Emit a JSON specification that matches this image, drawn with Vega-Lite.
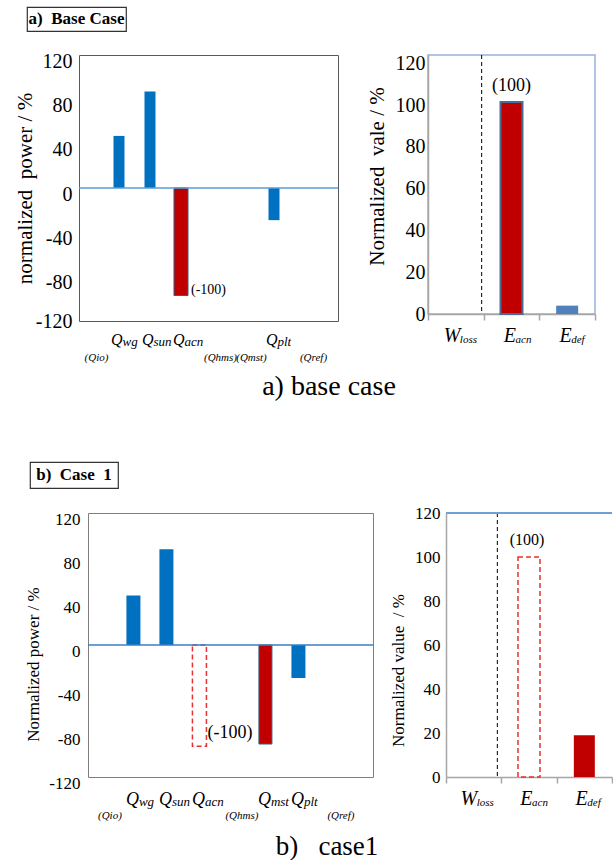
{
  "$schema": "https://vega.github.io/schema/vega-lite/v6.json",
  "padding": {"left": 0, "top": 6, "right": 0, "bottom": 0},
  "spacing": 0,
  "config": {
    "view": {"stroke": null},
    "font": "Liberation Serif",
    "axis": {"labelColor": "#000000", "titleColor": "#000000", "labelFont": "Liberation Serif", "titleFont": "Liberation Serif", "titleFontWeight": "normal", "grid": false},
    "text": {"color": "#000000", "font": "Liberation Serif"}
  },
  "vconcat": [
    {"hconcat": [
      {"width": 27, "height": 43, "data": {"values": []}, "mark": "point"},
      {"width": 99, "height": 24, "view": {"stroke": "#333333", "strokeWidth": 1.2},
       "data": {"values": [{"t": "a)\u00a0\u00a0Base Case"}]},
       "mark": {"type": "text", "fontSize": 17, "fontWeight": "bold", "font": "Liberation Serif"},
       "encoding": {"text": {"field": "t"}}}
    ], "spacing": 0, "bounds": "flush"},

    {"hconcat": [
      {"width": 79, "height": 312, "data": {"values": []}, "mark": "point"},
      {
        "width": 259, "height": 266,
        "view": {"stroke": "#595959", "strokeWidth": 1},
        "data": {"values": [
          {"cat": "Qwg", "v": 47, "kind": "blue"},
          {"cat": "Qsun", "v": 87, "kind": "blue"},
          {"cat": "Qacn", "v": -97, "kind": "red", "label": "(-100)"},
          {"cat": "Qplt", "v": -29, "kind": "blue"}
        ]},
        "layer": [
          {"transform": [{"filter": "datum.kind == 'blue'"}],
           "mark": {"type": "bar", "width": 11, "color": "#0070C0"},
           "encoding": {
             "x": {"field": "cat", "type": "nominal", "scale": {"type": "point", "domain": ["Qio","Qwg","Qsun","Qacn","Qhms","Qmst","Qplt","Qref"], "padding": 0.677, "align": 0.214},
                   "axis": {"orient": "bottom", "title": null, "domain": false, "ticks": false, "tickSize": 0, "labelAngle": 0, "labelAlign": "right", "labelBaseline": "alphabetic", "labelPadding": 23, "labelOffset": 3, "labelFont": "Liberation Serif", "labelFontSize": 16, "labelFontStyle": "italic", "labelOverlap": false,
                            "labelExpr": "indexof(['Qwg','Qsun','Qacn','Qplt'], datum.value) >= 0 ? 'Q' : ''"}},
             "y": {"field": "v", "type": "quantitative", "scale": {"domain": [-120, 120], "nice": false},
                   "axis": {"orient": "left", "values": [-120,-80,-40,0,40,80,120], "labelExpr": "'' + datum.value", "title": "normalized\u00a0\u00a0power / %", "titleFont": "Liberation Serif", "titleFontSize": 21, "titleX": -54, "titleY": 133, "titleAngle": -90, "titleBaseline": "middle", "titleAlign": "center",
                            "labelFont": "Liberation Serif", "labelFontSize": 20, "labelPadding": 7, "labelOffset": {"condition": {"test": "datum.value == -120", "value": 0}, "value": 6},
                            "ticks": false, "tickSize": 0, "domain": false, "labelFlush": false, "labelOverlap": false}}
           }},
          {"transform": [{"filter": "datum.kind == 'red'"}],
           "mark": {"type": "bar", "width": 14, "color": "#C00000", "stroke": "#3A5A80", "strokeWidth": 1},
           "encoding": {
             "x": {"field": "cat", "type": "nominal", "scale": {"type": "point", "domain": ["Qio","Qwg","Qsun","Qacn","Qhms","Qmst","Qplt","Qref"], "padding": 0.677, "align": 0.214}, "axis": null},
             "y": {"field": "v", "type": "quantitative", "scale": {"domain": [-120, 120], "nice": false}, "axis": null}
           }},
          {"data": {"values": [{}]},
           "mark": {"type": "rule", "color": "#5B9BD5", "strokeWidth": 1.5},
           "encoding": {"y": {"datum": 0, "type": "quantitative", "scale": {"domain": [-120, 120], "nice": false}, "axis": null}}},
          {"transform": [{"filter": "isValid(datum.label)"}],
           "mark": {"type": "text", "align": "left", "baseline": "middle", "dx": 10, "dy": -6, "fontSize": 14, "font": "Liberation Serif"},
           "encoding": {
             "x": {"field": "cat", "type": "nominal", "scale": {"type": "point", "domain": ["Qio","Qwg","Qsun","Qacn","Qhms","Qmst","Qplt","Qref"], "padding": 0.677, "align": 0.214}, "axis": null},
             "y": {"field": "v", "type": "quantitative", "scale": {"domain": [-120, 120], "nice": false}, "axis": null},
             "text": {"field": "label"}
           }},
          {"mark": {"type": "point", "opacity": 0},
           "encoding": {
             "x": {"field": "cat", "type": "nominal", "scale": {"type": "point", "domain": ["Qio","Qwg","Qsun","Qacn","Qhms","Qmst","Qplt","Qref"], "padding": 0.677, "align": 0.214},
                   "axis": {"orient": "bottom", "title": null, "domain": false, "ticks": false, "tickSize": 0, "labelAngle": 0, "labelAlign": "left", "labelBaseline": "alphabetic", "labelPadding": 24, "labelOffset": 3, "labelFont": "Liberation Serif", "labelFontSize": 13, "labelFontStyle": "italic", "labelOverlap": false,
                            "labelExpr": "indexof(['Qwg','Qsun','Qacn','Qplt'], datum.value) >= 0 ? substring(datum.value, 1) : ''"}},
             "y": {"field": "v", "type": "quantitative", "scale": {"domain": [-120, 120], "nice": false}, "axis": null}
           }},
          {"mark": {"type": "point", "opacity": 0},
           "encoding": {
             "x": {"field": "cat", "type": "nominal", "scale": {"type": "point", "domain": ["Qio","Qwg","Qsun","Qacn","Qhms","Qmst","Qplt","Qref"], "padding": 0.677, "align": 0.214},
                   "axis": {"orient": "bottom", "title": null, "domain": false, "ticks": false, "tickSize": 0, "labelAngle": 0, "labelAlign": "center", "labelBaseline": "alphabetic", "labelPadding": 39, "labelOffset": 8, "labelFont": "Liberation Serif", "labelFontSize": 11, "labelFontStyle": "italic", "labelOverlap": false,
                            "labelExpr": "indexof(['Qio','Qhms','Qmst','Qref'], datum.value) >= 0 ? '(' + datum.value + ')' : ''"}},
             "y": {"field": "v", "type": "quantitative", "scale": {"domain": [-120, 120], "nice": false}, "axis": null}
           }}
        ],
        "resolve": {"axis": {"x": "independent", "y": "independent"}}
      },
      {"width": 90, "height": 1, "data": {"values": []}, "mark": "point"},
      {
        "width": 167, "height": 259,
        "view": {"stroke": "#95B3D7", "strokeWidth": 1.5},
        "data": {"values": [
          {"cat": "Eacn", "v": 101.5, "kind": "red", "label": "(100)"},
          {"cat": "Edef", "v": 4, "kind": "blue"}
        ]},
        "layer": [
          {"transform": [{"filter": "datum.kind == 'red'"}],
           "mark": {"type": "bar", "width": 22, "color": "#C00000", "stroke": "#4A6C95", "strokeWidth": 2},
           "encoding": {
             "x": {"field": "cat", "type": "nominal", "scale": {"type": "band", "domain": ["Wloss","Eacn","Edef"], "paddingInner": 0, "paddingOuter": 0},
                   "axis": {"orient": "bottom", "title": null, "domain": true, "domainColor": "#A6A6A6", "domainWidth": 1.5, "ticks": true, "tickColor": "#A6A6A6", "tickWidth": 1.5, "tickSize": 6, "tickBand": "extent", "labelAngle": 0, "labelAlign": "right", "labelBaseline": "alphabetic", "labelPadding": 21, "labelOffset": 4, "labelFont": "Liberation Serif", "labelFontSize": 20, "labelFontStyle": "italic", "labelOverlap": false,
                            "labelExpr": "indexof(['Wloss','Eacn','Edef'], datum.value) >= 0 ? substring(datum.value, 0, 1) : ''"}},
             "y": {"field": "v", "type": "quantitative", "scale": {"domain": [0, 124], "nice": false},
                   "axis": {"orient": "left", "values": [0,20,40,60,80,100,120], "labelExpr": "'' + datum.value", "title": "Normalized\u00a0\u00a0vale / %", "titleFont": "Liberation Serif", "titleFontSize": 21, "titleX": -51, "titleY": 121, "titleAngle": -90, "titleBaseline": "middle", "titleAlign": "center",
                            "labelFont": "Liberation Serif", "labelFontSize": 20, "labelPadding": 3, "ticks": false, "tickSize": 0, "domain": true, "domainColor": "#A6A6A6", "domainWidth": 1.5, "labelFlush": false, "labelOverlap": false}}
           }},
          {"transform": [{"filter": "datum.kind == 'blue'"}],
           "mark": {"type": "bar", "width": 22, "color": "#4F81BD"},
           "encoding": {
             "x": {"field": "cat", "type": "nominal", "scale": {"type": "band", "domain": ["Wloss","Eacn","Edef"], "paddingInner": 0, "paddingOuter": 0}, "axis": null},
             "y": {"field": "v", "type": "quantitative", "scale": {"domain": [0, 124], "nice": false}, "axis": null}
           }},
          {"data": {"values": [{"cat": "Eacn"}]},
           "mark": {"type": "rule", "color": "#000000", "strokeWidth": 1, "strokeDash": [4, 3], "xOffset": -2},
           "encoding": {"x": {"field": "cat", "type": "nominal", "bandPosition": 0, "scale": {"type": "band", "domain": ["Wloss","Eacn","Edef"], "paddingInner": 0, "paddingOuter": 0}, "axis": null}}},
          {"transform": [{"filter": "isValid(datum.label)"}],
           "mark": {"type": "text", "align": "center", "baseline": "middle", "dy": -16, "fontSize": 18, "font": "Liberation Serif"},
           "encoding": {
             "x": {"field": "cat", "type": "nominal", "scale": {"type": "band", "domain": ["Wloss","Eacn","Edef"], "paddingInner": 0, "paddingOuter": 0}, "axis": null},
             "y": {"field": "v", "type": "quantitative", "scale": {"domain": [0, 124], "nice": false}, "axis": null},
             "text": {"field": "label"}
           }},
          {"mark": {"type": "point", "opacity": 0},
           "encoding": {
             "x": {"field": "cat", "type": "nominal", "scale": {"type": "band", "domain": ["Wloss","Eacn","Edef"], "paddingInner": 0, "paddingOuter": 0},
                   "axis": {"orient": "bottom", "title": null, "domain": false, "ticks": false, "tickSize": 0, "labelAngle": 0, "labelAlign": "left", "labelBaseline": "alphabetic", "labelPadding": 28, "labelOffset": 4, "labelFont": "Liberation Serif", "labelFontSize": 11, "labelFontStyle": "italic", "labelOverlap": false,
                            "labelExpr": "indexof(['Wloss','Eacn','Edef'], datum.value) >= 0 ? substring(datum.value, 1) : ''"}},
             "y": {"field": "v", "type": "quantitative", "scale": {"domain": [0, 124], "nice": false}, "axis": null}
           }}
        ],
        "resolve": {"axis": {"x": "independent", "y": "independent"}}
      }
    ], "spacing": 0, "bounds": "flush"},

    {"hconcat": [
      {"width": 229, "height": 94, "data": {"values": []}, "mark": "point"},
      {"width": 200, "height": 20,
       "data": {"values": [{"t": "a) base case"}]},
       "mark": {"type": "text", "fontSize": 28, "dy": 10, "font": "Liberation Serif"},
       "encoding": {"text": {"field": "t"}}}
    ], "spacing": 0, "bounds": "flush"},

    {"hconcat": [
      {"width": 30, "height": 42, "data": {"values": []}, "mark": "point"},
      {"width": 88, "height": 26, "view": {"stroke": "#333333", "strokeWidth": 1.2},
       "data": {"values": [{"t": "b)\u00a0\u00a0Case\u00a0\u00a01"}]},
       "mark": {"type": "text", "fontSize": 17, "fontWeight": "bold", "font": "Liberation Serif"},
       "encoding": {"text": {"field": "t"}}}
    ], "spacing": 0, "bounds": "flush"},

    {"hconcat": [
      {"width": 88, "height": 314, "data": {"values": []}, "mark": "point"},
      {
        "width": 285, "height": 264,
        "view": {"stroke": "#7F7F7F", "strokeWidth": 1},
        "data": {"values": [
          {"cat": "Qwg", "v": 45, "kind": "blue"},
          {"cat": "Qsun", "v": 87, "kind": "blue"},
          {"cat": "Qacn", "v": -92, "kind": "dashed", "label": "(-100)"},
          {"cat": "Qmst", "v": -90, "kind": "red"},
          {"cat": "Qplt", "v": -30, "kind": "blue"}
        ]},
        "layer": [
          {"transform": [{"filter": "datum.kind == 'blue'"}],
           "mark": {"type": "bar", "width": 14, "color": "#0070C0"},
           "encoding": {
             "x": {"field": "cat", "type": "nominal", "scale": {"type": "point", "domain": ["Qio","Qwg","Qsun","Qacn","Qhms","Qmst","Qplt","Qref"], "padding": 0.818, "align": 0.23},
                   "axis": {"orient": "bottom", "title": null, "domain": false, "ticks": false, "tickSize": 0, "labelAngle": 0, "labelAlign": "right", "labelBaseline": "alphabetic", "labelPadding": 27, "labelOffset": 5, "labelFont": "Liberation Serif", "labelFontSize": 18, "labelFontStyle": "italic", "labelOverlap": false,
                            "labelExpr": "indexof(['Qwg','Qsun','Qacn','Qmst','Qplt'], datum.value) >= 0 ? 'Q' : ''"}},
             "y": {"field": "v", "type": "quantitative", "scale": {"domain": [-120, 120], "nice": false},
                   "axis": {"orient": "left", "values": [-120,-80,-40,0,40,80,120], "labelExpr": "'' + datum.value", "title": "Normalized power / %", "titleFont": "Liberation Serif", "titleFontSize": 17, "titleX": -55, "titleY": 151, "titleAngle": -90, "titleBaseline": "middle", "titleAlign": "center",
                            "labelFont": "Liberation Serif", "labelFontSize": 17, "labelPadding": 8, "labelOffset": 6,
                            "ticks": false, "tickSize": 0, "domain": false, "labelFlush": false, "labelOverlap": false}}
           }},
          {"transform": [{"filter": "datum.kind == 'red'"}],
           "mark": {"type": "bar", "width": 13, "color": "#C00000", "stroke": "#3A5A80", "strokeWidth": 1},
           "encoding": {
             "x": {"field": "cat", "type": "nominal", "scale": {"type": "point", "domain": ["Qio","Qwg","Qsun","Qacn","Qhms","Qmst","Qplt","Qref"], "padding": 0.818, "align": 0.23}, "axis": null},
             "y": {"field": "v", "type": "quantitative", "scale": {"domain": [-120, 120], "nice": false}, "axis": null}
           }},
          {"transform": [{"filter": "datum.kind == 'dashed'"}],
           "mark": {"type": "bar", "width": 14, "color": "#E8312F", "fillOpacity": 0, "stroke": "#E8312F", "strokeWidth": 1.5, "strokeDash": [5, 3]},
           "encoding": {
             "x": {"field": "cat", "type": "nominal", "scale": {"type": "point", "domain": ["Qio","Qwg","Qsun","Qacn","Qhms","Qmst","Qplt","Qref"], "padding": 0.818, "align": 0.23}, "axis": null},
             "y": {"field": "v", "type": "quantitative", "scale": {"domain": [-120, 120], "nice": false}, "axis": null}
           }},
          {"data": {"values": [{}]},
           "mark": {"type": "rule", "color": "#3C7DC4", "strokeWidth": 1.5},
           "encoding": {"y": {"datum": 0, "type": "quantitative", "scale": {"domain": [-120, 120], "nice": false}, "axis": null}}},
          {"transform": [{"filter": "isValid(datum.label)"}],
           "mark": {"type": "text", "align": "left", "baseline": "middle", "dx": 8, "dy": -13, "fontSize": 18, "font": "Liberation Serif"},
           "encoding": {
             "x": {"field": "cat", "type": "nominal", "scale": {"type": "point", "domain": ["Qio","Qwg","Qsun","Qacn","Qhms","Qmst","Qplt","Qref"], "padding": 0.818, "align": 0.23}, "axis": null},
             "y": {"field": "v", "type": "quantitative", "scale": {"domain": [-120, 120], "nice": false}, "axis": null},
             "text": {"field": "label"}
           }},
          {"mark": {"type": "point", "opacity": 0},
           "encoding": {
             "x": {"field": "cat", "type": "nominal", "scale": {"type": "point", "domain": ["Qio","Qwg","Qsun","Qacn","Qhms","Qmst","Qplt","Qref"], "padding": 0.818, "align": 0.23},
                   "axis": {"orient": "bottom", "title": null, "domain": false, "ticks": false, "tickSize": 0, "labelAngle": 0, "labelAlign": "left", "labelBaseline": "alphabetic", "labelPadding": 28, "labelOffset": 5, "labelFont": "Liberation Serif", "labelFontSize": 13, "labelFontStyle": "italic", "labelOverlap": false,
                            "labelExpr": "indexof(['Qwg','Qsun','Qacn','Qmst','Qplt'], datum.value) >= 0 ? substring(datum.value, 1) : ''"}},
             "y": {"field": "v", "type": "quantitative", "scale": {"domain": [-120, 120], "nice": false}, "axis": null}
           }},
          {"mark": {"type": "point", "opacity": 0},
           "encoding": {
             "x": {"field": "cat", "type": "nominal", "scale": {"type": "point", "domain": ["Qio","Qwg","Qsun","Qacn","Qhms","Qmst","Qplt","Qref"], "padding": 0.818, "align": 0.23},
                   "axis": {"orient": "bottom", "title": null, "domain": false, "ticks": false, "tickSize": 0, "labelAngle": 0, "labelAlign": "center", "labelBaseline": "alphabetic", "labelPadding": 41, "labelOffset": 9, "labelFont": "Liberation Serif", "labelFontSize": 11, "labelFontStyle": "italic", "labelOverlap": false,
                            "labelExpr": "indexof(['Qio','Qhms','Qref'], datum.value) >= 0 ? '(' + datum.value + ')' : ''"}},
             "y": {"field": "v", "type": "quantitative", "scale": {"domain": [-120, 120], "nice": false}, "axis": null}
           }}
        ],
        "resolve": {"axis": {"x": "independent", "y": "independent"}}
      },
      {"width": 73, "height": 1, "data": {"values": []}, "mark": "point"},
      {
        "width": 166, "height": 264,
        "data": {"values": [
          {"cat": "Eacn", "v": 100, "kind": "dashed", "label": "(100)"},
          {"cat": "Edef", "v": 19, "kind": "red"}
        ]},
        "layer": [
          {"transform": [{"filter": "datum.kind == 'red'"}],
           "mark": {"type": "bar", "width": 21, "color": "#C00000"},
           "encoding": {
             "x": {"field": "cat", "type": "nominal", "scale": {"type": "band", "domain": ["Wloss","Eacn","Edef"], "paddingInner": 0, "paddingOuter": 0},
                   "axis": {"orient": "bottom", "title": null, "domain": true, "domainColor": "#A6A6A6", "domainWidth": 1.5, "ticks": true, "tickColor": "#A6A6A6", "tickWidth": 1.5, "tickSize": 6, "tickBand": "extent", "labelAngle": 0, "labelAlign": "right", "labelBaseline": "alphabetic", "labelPadding": 21, "labelOffset": 3, "labelFont": "Liberation Serif", "labelFontSize": 20, "labelFontStyle": "italic", "labelOverlap": false,
                            "labelExpr": "indexof(['Wloss','Eacn','Edef'], datum.value) >= 0 ? substring(datum.value, 0, 1) : ''"}},
             "y": {"field": "v", "type": "quantitative", "scale": {"domain": [0, 120], "nice": false},
                   "axis": {"orient": "left", "values": [0,20,40,60,80,100,120], "labelExpr": "'' + datum.value", "title": "Normalized value\u00a0\u00a0/ %", "titleFont": "Liberation Serif", "titleFontSize": 17, "titleX": -48, "titleY": 157, "titleAngle": -90, "titleBaseline": "middle", "titleAlign": "center",
                            "labelFont": "Liberation Serif", "labelFontSize": 17, "labelPadding": 6, "ticks": false, "tickSize": 0, "domain": true, "domainColor": "#A6A6A6", "domainWidth": 1.5, "labelFlush": false, "labelOverlap": false}}
           }},
          {"transform": [{"filter": "datum.kind == 'dashed'"}],
           "mark": {"type": "bar", "width": 22, "color": "#E8312F", "fillOpacity": 0, "stroke": "#E8312F", "strokeWidth": 1.5, "strokeDash": [5, 3]},
           "encoding": {
             "x": {"field": "cat", "type": "nominal", "scale": {"type": "band", "domain": ["Wloss","Eacn","Edef"], "paddingInner": 0, "paddingOuter": 0}, "axis": null},
             "y": {"field": "v", "type": "quantitative", "scale": {"domain": [0, 120], "nice": false}, "axis": null}
           }},
          {"data": {"values": [{"cat": "Eacn"}]},
           "mark": {"type": "rule", "color": "#000000", "strokeWidth": 1, "strokeDash": [4, 3], "xOffset": -4},
           "encoding": {"x": {"field": "cat", "type": "nominal", "bandPosition": 0, "scale": {"type": "band", "domain": ["Wloss","Eacn","Edef"], "paddingInner": 0, "paddingOuter": 0}, "axis": null}}},
          {"data": {"values": [{}]},
           "mark": {"type": "rule", "color": "#6F9FD8", "strokeWidth": 2},
           "encoding": {"y": {"datum": 120, "type": "quantitative", "scale": {"domain": [0, 120], "nice": false}, "axis": null}}},
          {"transform": [{"filter": "isValid(datum.label)"}],
           "mark": {"type": "text", "align": "center", "baseline": "middle", "dx": -2, "dy": -17, "fontSize": 16, "font": "Liberation Serif"},
           "encoding": {
             "x": {"field": "cat", "type": "nominal", "scale": {"type": "band", "domain": ["Wloss","Eacn","Edef"], "paddingInner": 0, "paddingOuter": 0}, "axis": null},
             "y": {"field": "v", "type": "quantitative", "scale": {"domain": [0, 120], "nice": false}, "axis": null},
             "text": {"field": "label"}
           }},
          {"mark": {"type": "point", "opacity": 0},
           "encoding": {
             "x": {"field": "cat", "type": "nominal", "scale": {"type": "band", "domain": ["Wloss","Eacn","Edef"], "paddingInner": 0, "paddingOuter": 0},
                   "axis": {"orient": "bottom", "title": null, "domain": false, "ticks": false, "tickSize": 0, "labelAngle": 0, "labelAlign": "left", "labelBaseline": "alphabetic", "labelPadding": 28, "labelOffset": 3, "labelFont": "Liberation Serif", "labelFontSize": 11, "labelFontStyle": "italic", "labelOverlap": false,
                            "labelExpr": "indexof(['Wloss','Eacn','Edef'], datum.value) >= 0 ? substring(datum.value, 1) : ''"}},
             "y": {"field": "v", "type": "quantitative", "scale": {"domain": [0, 120], "nice": false}, "axis": null}
           }}
        ],
        "resolve": {"axis": {"x": "independent", "y": "independent"}}
      }
    ], "spacing": 0, "bounds": "flush"},

    {"hconcat": [
      {"width": 227, "height": 20, "data": {"values": []}, "mark": "point"},
      {"width": 200, "height": 20,
       "data": {"values": [{"t": "b)\u00a0\u00a0\u00a0case1"}]},
       "mark": {"type": "text", "fontSize": 27, "dy": 10, "font": "Liberation Serif"},
       "encoding": {"text": {"field": "t"}}}
    ], "spacing": 0, "bounds": "flush"}
  ]
}
